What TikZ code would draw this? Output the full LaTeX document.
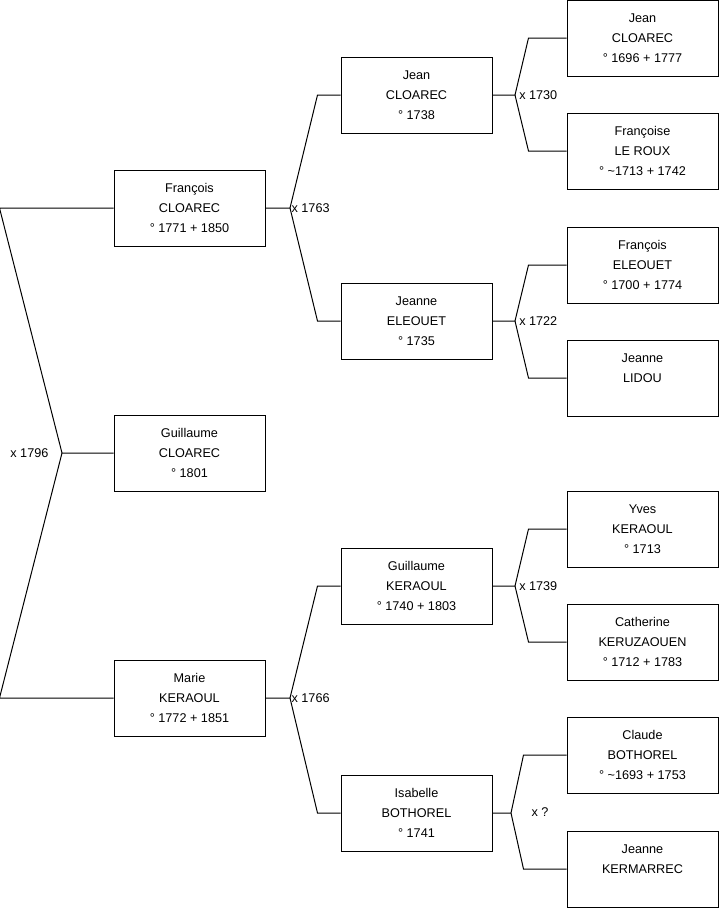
\documentclass[tikz,border=0pt]{standalone}
\usepackage{fontspec}
\setmainfont{Liberation Sans}
\usetikzlibrary{positioning,calc}

\begin{document}
\begin{tikzpicture}[x=0.75pt, y=-0.75pt]
  \tikzset{
    person/.style={draw=black, line width=0.75pt, fill=white, minimum width=113.25pt, minimum height=57pt, inner sep=0pt, align=center, font=\fontsize{9.5}{15}\selectfont},
    link/.style={line width=0.75pt},
    wed/.style={inner sep=1pt, font=\fontsize{9.5}{12}\selectfont}
  }
  \useasboundingbox (0,0) rectangle (719,908);

  % Generation 1
  \node[person] (guillaume) at (189.5,453) {Guillaume\\CLOAREC\\° 1801};

  % Generation 2
  \node[person] (francois) at (189.5,208) {François\\CLOAREC\\° 1771 + 1850};
  \node[person] (marie) at (189.5,698) {Marie\\KERAOUL\\° 1772 + 1851};

  % Generation 3
  \node[person] (jean) at (416.5,95) {Jean\\CLOAREC\\° 1738};
  \node[person] (jeanne) at (416.5,321) {Jeanne\\ELEOUET\\° 1735};
  \node[person] (guilk) at (416.5,586) {Guillaume\\KERAOUL\\° 1740 + 1803};
  \node[person] (isabelle) at (416.5,813) {Isabelle\\BOTHOREL\\° 1741};

  % Generation 4
  \node[person] (jeanc) at (642.5,38) {Jean\\CLOAREC\\° 1696 + 1777};
  \node[person] (francoise) at (642.5,151) {Françoise\\LE ROUX\\° \textasciitilde1713 + 1742};
  \node[person] (francoise2) at (642.5,265) {François\\ELEOUET\\° 1700 + 1774};
  \node[person] (lidou) at (642.5,378) {Jeanne\\LIDOU\\\mbox{}};
  \node[person] (yves) at (642.5,529) {Yves\\KERAOUL\\° 1713};
  \node[person] (catherine) at (642.5,642) {Catherine\\KERUZAOUEN\\° 1712 + 1783};
  \node[person] (claude) at (642.5,755) {Claude\\BOTHOREL\\° \textasciitilde1693 + 1753};
  \node[person] (kermarrec) at (642.5,869) {Jeanne\\KERMARREC\\\mbox{}};

  % Marriage points
  \coordinate (w0) at (62,453);
  \coordinate (w1) at (290,208);
  \coordinate (w2) at (290,698);
  \coordinate (w3) at (515,95);
  \coordinate (w4) at (515,321);
  \coordinate (w5) at (515,586);
  \coordinate (w6) at (511,813);

  % Parents of Guillaume
  \draw[link] (guillaume.west) -- (w0) -- ($(francois.west)+(-114,0)$) -- (francois.west);
  \draw[link] (w0) -- ($(marie.west)+(-114,0)$) -- (marie.west);
  \node[wed, anchor=east] (wed0) at (50,453) {x 1796};

  % Parents of Francois and Marie
  \draw[link] (francois.east) -- (w1) -- ($(jean.west)+(-23,0)$) -- (jean.west);
  \draw[link] (w1) -- ($(jeanne.west)+(-23,0)$) -- (jeanne.west);
  \node[wed, anchor=west] (wed1) at (w1) {x 1763};
  \draw[link] (marie.east) -- (w2) -- ($(guilk.west)+(-23,0)$) -- (guilk.west);
  \draw[link] (w2) -- ($(isabelle.west)+(-23,0)$) -- (isabelle.west);
  \node[wed, anchor=west] (wed2) at (w2) {x 1766};

  % Parents of generation 3
  \draw[link] (jean.east) -- (w3) -- ($(jeanc.west)+(-38,0)$) -- (jeanc.west);
  \draw[link] (w3) -- ($(francoise.west)+(-38,0)$) -- (francoise.west);
  \node[wed, anchor=west] (wed3) at ([xshift=2pt]w3) {x 1730};
  \draw[link] (jeanne.east) -- (w4) -- ($(francoise2.west)+(-38,0)$) -- (francoise2.west);
  \draw[link] (w4) -- ($(lidou.west)+(-38,0)$) -- (lidou.west);
  \node[wed, anchor=west] (wed4) at ([xshift=2pt]w4) {x 1722};
  \draw[link] (guilk.east) -- (w5) -- ($(yves.west)+(-38,0)$) -- (yves.west);
  \draw[link] (w5) -- ($(catherine.west)+(-38,0)$) -- (catherine.west);
  \node[wed, anchor=west] (wed5) at ([xshift=2pt]w5) {x 1739};
  \draw[link] (isabelle.east) -- (w6) -- ($(claude.west)+(-43,0)$) -- (claude.west);
  \draw[link] (w6) -- ($(kermarrec.west)+(-43,0)$) -- (kermarrec.west);
  \node[wed, anchor=west] (wed6) at (530,812) {x ?};
\end{tikzpicture}
\end{document}
